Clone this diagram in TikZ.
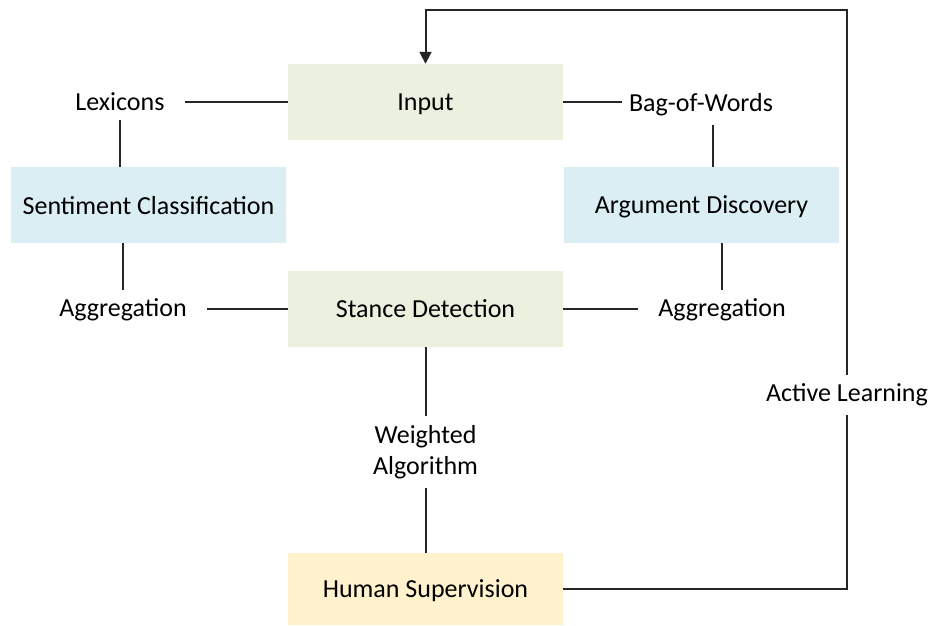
\documentclass[tikz,border=0pt]{standalone}
\usepackage{fontspec}
\setmainfont{Carlito}
\usetikzlibrary{arrows.meta}
\definecolor{stepgreen}{HTML}{EBF1DE}
\definecolor{methodblue}{HTML}{DAEEF3}
\definecolor{humanyellow}{HTML}{FFF2CC}

\begin{document}
\begin{tikzpicture}
    [x=1pt, y=-1pt,
     every node/.style={font=\fontsize{26}{31}\selectfont, text=black},
     box/.style={minimum width=275pt, minimum height=76pt, inner sep=0pt, text depth=0pt},
     stepbox/.style={box, fill=stepgreen},
     methodbox/.style={box, fill=methodblue},
     humanbox/.style={box, fill=humanyellow, minimum height=72pt},
     term/.style={inner xsep=20pt, inner ysep=9pt},
     link/.style={line width=2pt, draw=black!85}]

    \useasboundingbox (0,0) rectangle (931,626);

    % main steps
    \node[stepbox] (input) at (425.5,102) {Input};
    \node[methodbox] (senti) at (148.5,205) {Sentiment Classification};
    \node[methodbox] (argue) at (701.5,205) {Argument Discovery};
    \node[stepbox] (stance) at (425.5,309) {Stance Detection};
    \node[humanbox] (human) at (425.5,589) {Human Supervision};

    % connector labels
    \node[term] (lexicons) at (120,102) {Lexicons};
    \node[term] (bow) at (701,105) {Bag-of-Words};
    \node[term] (aggleft) at (123,310) {Aggregation};
    \node[term] (aggright) at (722,310) {Aggregation};
    \node[term, align=center] (weighted) at (425.5,452) {Weighted\\Algorithm};
    \node[term] (active) at (847,395) {Active Learning};
    \coordinate (top) at (0,10);

    \draw[link] (lexicons) -- (input);
    \draw[link, shorten >=-13pt] (input.east) -- (input.east -| bow.west);
    \draw[link] (lexicons.south) -- (lexicons.south |- senti.north);
    \draw[link] ([xshift=12pt]bow.south) -- ([xshift=12pt]bow.south |- argue.north);
    \draw[link] (senti.south -| aggleft.north) -- (aggleft.north);
    \draw[link] (argue.south -| aggright.north) -- (aggright.north);
    \draw[link] (stance.west) -- (stance.west -| aggleft.east);
    \draw[link] (stance.east) -- (stance.east -| aggright.west);
    \draw[link] (stance) -- (weighted);
    \draw[link] (weighted) -- (human);
    \draw[link] (human.east) -| (active.south);
    \draw[link, -{Triangle[width=12pt, length=12pt]}]
        (active.north) |- (top -| input.north) -- (input.north);
\end{tikzpicture}
\end{document}
